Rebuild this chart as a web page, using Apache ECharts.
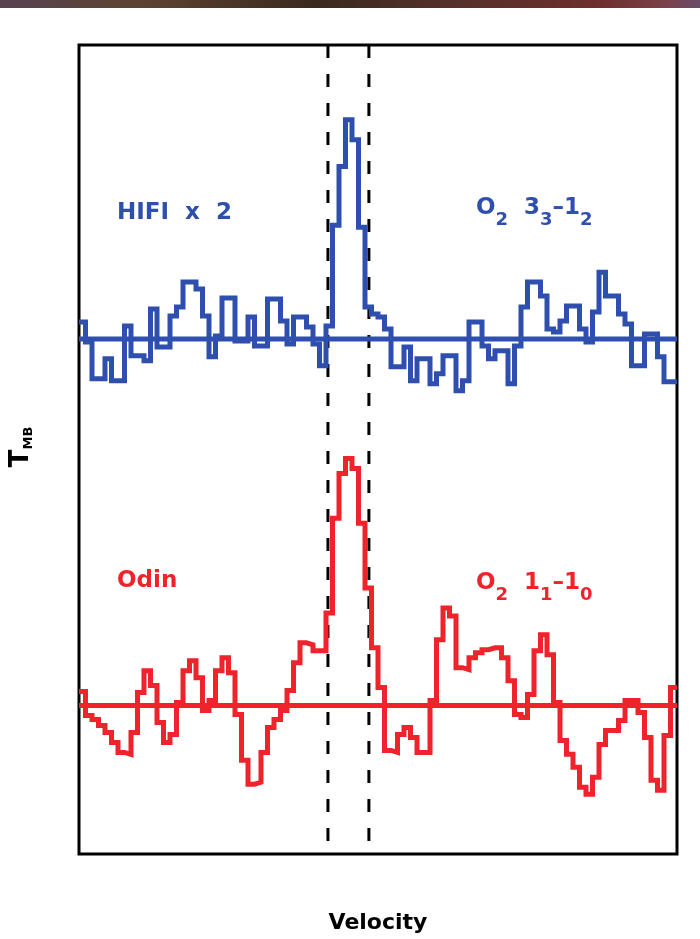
<!DOCTYPE html>
<html>
<head>
<meta charset="utf-8">
<script src="https://cdn.jsdelivr.net/npm/echarts@6/dist/echarts.min.js"></script>
<style>
  html, body { margin: 0; padding: 0; background: #fff; }
  #chart { width: 700px; height: 939px; }
</style>
</head>
<body>
<div id="chart"></div>
<script>
// channel i covers velocity [i, i+1]; intensities in mK relative to each baseline
const hifiX2 = [
  17, -3, -40, -40, -20, -42, -42, 13, -17, -17,
  -22, 30, -8, -8, 23, 32, 57, 57, 50, 23,
  -18, 3, 41, 41, -2, -2, 22, -7, -7, 40,
  40, 18, -5, 22, 22, 12, -5, -27, 13, 114,
  173, 220, 200, 112, 32, 25, 22, 10, -28, -28,
  -8, -42, -20, -20, -45, -35, -17, -17, -52, -42,
  17, 17, -7, -20, -12, -12, -45, -7, 32, 57,
  57, 43, 10, 7, 18, 33, 33, 10, -3, 27,
  67, 43, 43, 25, 15, -27, -27, 5, 5, -18,
  -43, -43
];
const odin = [
  14, -10, -14, -20, -27, -37, -47, -49, -27, 13,
  35, 20, -17, -37, -29, 3, 35, 45, 28, -5,
  5, 35, 48, 33, -9, -55, -79, -77, -47, -22,
  -14, -5, 15, 43, 63, 61, 55, 55, 93, 188,
  233, 248, 238, 183, 118, 58, 18, -45, -47, -29,
  -22, -32, -47, -47, 5, 66, 98, 90, 38, 36,
  48, 53, 56, 58, 58, 48, 25, -9, -12, 11,
  55, 71, 51, 3, -35, -49, -62, -82, -89, -72,
  -39, -25, -25, -15, 5, 5, -7, -32, -75, -85,
  -30, 18
];
const hifiOffset = 368;        // HIFI spectrum shifted up
const lineVel = [38.3, 44.6];  // dashed velocity markers
const yMin = -149, yMax = 663;
const nChan = odin.length;

const blue = '#2f4fae';
const red = '#ee232b';

function steps(vals, off) {
  const pts = vals.map((v, i) => [i, v + off]);
  pts.push([vals.length, vals[vals.length - 1] + off]);
  return pts;
}

function label(text, x, y, color) {
  return {
    type: 'text', x: x, y: y, z: 10,
    style: {
      text: text, fill: color, textAlign: 'left', textVerticalAlign: 'middle',
      rich: {
        m: { fontSize: 23, fontWeight: 'bold', fontFamily: 'DejaVu Sans', lineHeight: 25, padding: [0, 0, 12, 0], fill: color },
        s: { fontSize: 18, fontWeight: 'bold', fontFamily: 'DejaVu Sans', lineHeight: 19, padding: [12, 0, 0, 0], fill: color }
      }
    }
  };
}

const chart = echarts.init(document.getElementById('chart'), null, { renderer: 'canvas' });

const dashed = lineVel.map(v => ({
  type: 'line', data: [[v, yMax], [v, yMin]], symbol: 'none', silent: true, z: 1,
  lineStyle: { color: '#000', width: 3, type: [13, 16] }
}));

chart.setOption({
  animation: false,
  backgroundColor: '#fff',
  grid: { left: 79, right: 23, top: 45, bottom: 82, show: true, borderColor: '#000', borderWidth: 3, backgroundColor: 'transparent' },
  xAxis: {
    type: 'value', min: 0, max: nChan,
    name: 'Velocity', nameLocation: 'middle', nameGap: 58,
    nameTextStyle: { fontSize: 22, fontWeight: 'bold', fontFamily: 'DejaVu Sans', color: '#000' },
    axisLine: { show: false }, axisTick: { show: false }, axisLabel: { show: false }, splitLine: { show: false }
  },
  yAxis: {
    type: 'value', min: yMin, max: yMax,
    axisLine: { show: false }, axisTick: { show: false }, axisLabel: { show: false }, splitLine: { show: false }
  },
  graphic: [
    {
      type: 'rect', shape: { x: 0, y: 0, width: 700, height: 8 }, z: 10,
      style: {
        fill: new echarts.graphic.LinearGradient(0, 0, 1, 0, [
          { offset: 0, color: '#574252' }, { offset: 0.2, color: '#5e4230' },
          { offset: 0.45, color: '#3a2a1e' }, { offset: 0.65, color: '#55302a' },
          { offset: 0.85, color: '#6e2e2c' }, { offset: 0.95, color: '#7a4048' },
          { offset: 1, color: '#6a4a6a' }
        ])
      }
    },
    label('{m|HIFI  x  2}', 117, 219, blue),
    label('{m|O}{s|2}{m|  3}{s|3}{m|\u20131}{s|2}', 476, 214, blue),
    label('{m|Odin}', 117, 587, red),
    label('{m|O}{s|2}{m|  1}{s|1}{m|\u20131}{s|0}', 476, 589, red),
    {
      type: 'text', x: 25, y: 447, rotation: Math.PI / 2, z: 10,
      style: {
        text: '{m|T}{s|MB}', fill: '#000', textAlign: 'center', textVerticalAlign: 'middle',
        rich: {
          m: { fontSize: 26, fontWeight: 'bold', fontFamily: 'DejaVu Sans', lineHeight: 28, padding: [0, 0, 8, 0], fill: '#000' },
          s: { fontSize: 13, fontWeight: 'bold', fontFamily: 'DejaVu Sans', lineHeight: 14, padding: [8, 0, 0, 0], fill: '#000' }
        }
      }
    }
  ],
  series: dashed.concat([
    {
      type: 'line', data: [[0, hifiOffset], [nChan, hifiOffset]], symbol: 'none', silent: true, z: 2,
      lineStyle: { color: blue, width: 5 }
    },
    {
      type: 'line', data: [[0, 0], [nChan, 0]], symbol: 'none', silent: true, z: 2,
      lineStyle: { color: red, width: 5 }
    },
    {
      type: 'line', step: 'end', data: steps(hifiX2, hifiOffset), symbol: 'none', z: 3,
      lineStyle: { color: blue, width: 5, join: 'miter' }
    },
    {
      type: 'line', step: 'end', data: steps(odin, 0), symbol: 'none', z: 3,
      lineStyle: { color: red, width: 5, join: 'miter' }
    }
  ])
});
</script>
</body>
</html>
